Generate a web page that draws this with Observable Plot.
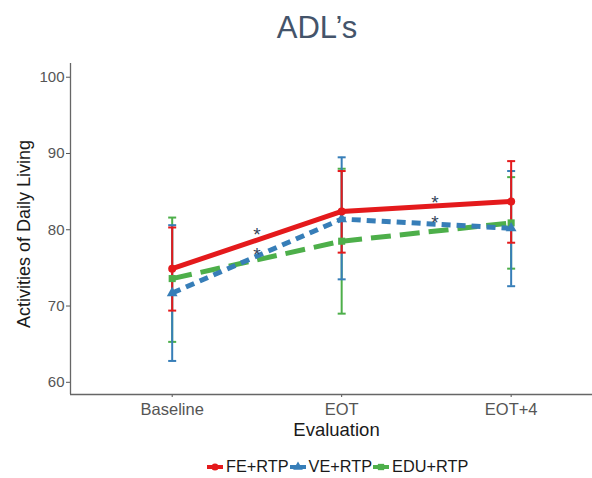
<!DOCTYPE html>
<html>
<head>
<meta charset="utf-8">
<script src="https://cdn.jsdelivr.net/npm/d3@7"></script>
<script src="https://cdn.jsdelivr.net/npm/@observablehq/plot@0.6"></script>
<style>
  body { margin: 0; background: #fff; font-family: "Liberation Sans", Arial, sans-serif; }
  #wrap { position: relative; width: 592px; height: 478px; overflow: hidden; }
  #legend { position: absolute; left: 206px; top: 457px; display: flex; align-items: center; font-size: 16.3px; color: #1a1a1a; white-space: nowrap; }
  #legend .item { display: flex; align-items: center; }
  #legend svg { display: block; margin-right: 2px; }
</style>
</head>
<body>
<div id="wrap"></div>
<script>
// ---- data ----
const evaluations = ["Baseline", "EOT", "EOT+4"];
const groups = ["FE+RTP", "VE+RTP", "EDU+RTP"];
const groupColors = ["#e41a1c", "#377eb8", "#4daf4a"];
const groupSymbols = ["circle", "triangle", "square"];
const groupDashes = [null, "9,6", "20,9"];

const feMean  = [74.9, 82.4, 83.7];
const feLow   = [69.4, 77.0, 78.3];
const feHigh  = [80.3, 87.7, 89.0];

const veMean  = [71.7, 81.4, 80.2];
const veLow   = [62.8, 73.5, 72.6];
const veHigh  = [80.6, 89.5, 87.7];

const eduMean = [73.6, 78.5, 80.9];
const eduLow  = [65.3, 69.0, 74.9];
const eduHigh = [81.6, 88.0, 86.9];

// significance markers: position between evaluations (1-based index) and value
const starX = [1.5, 1.5, 2.55, 2.55];
const starY = [80.0, 77.3, 84.2, 81.5];

const yTicks = [60, 70, 80, 90, 100];

// ---- build table ----
const seriesMeans = [feMean, veMean, eduMean];
const seriesLows = [feLow, veLow, eduLow];
const seriesHighs = [feHigh, veHigh, eduHigh];
const rows = [];
groups.forEach((g, gi) => {
  evaluations.forEach((e, ei) => {
    rows.push({group: g, gi, x: ei + 1, eval: e, mean: seriesMeans[gi][ei], low: seriesLows[gi][ei], high: seriesHighs[gi][ei]});
  });
});
const stars = starX.map((x, i) => ({x, y: starY[i]}));

const capSymbol = {
  draw(context, size) {
    const w = Math.sqrt(size / Math.PI);
    context.moveTo(-w, 0);
    context.lineTo(w, 0);
  }
};

const drawOrder = [2, 1, 0];
const marks = [];
// error bars
for (const gi of drawOrder) {
  const d = rows.filter(r => r.gi === gi);
  marks.push(Plot.ruleX(d, {x: "x", y1: "low", y2: "high", stroke: groupColors[gi], strokeWidth: 2}));
  marks.push(Plot.dot(d, {x: "x", y: "low", symbol: capSymbol, r: 4, stroke: groupColors[gi], strokeWidth: 2, fill: "none"}));
  marks.push(Plot.dot(d, {x: "x", y: "high", symbol: capSymbol, r: 4, stroke: groupColors[gi], strokeWidth: 2, fill: "none"}));
}
// lines
for (const gi of drawOrder) {
  const d = rows.filter(r => r.gi === gi);
  marks.push(Plot.line(d, {x: "x", y: "mean", stroke: groupColors[gi], strokeWidth: 5, strokeDasharray: groupDashes[gi], strokeLinecap: "butt"}));
}
// points
for (const gi of drawOrder) {
  const d = rows.filter(r => r.gi === gi);
  marks.push(Plot.dot(d, {x: "x", y: "mean", symbol: groupSymbols[gi], r: 4, fill: groupColors[gi], stroke: "none"}));
}
// asterisks
marks.push(Plot.text(stars, {x: "x", y: "y", text: () => "*", fontSize: 19, fill: "#34445a", dy: 5}));

// axes
marks.push(Plot.axisY({ticks: yTicks, tickSize: 4, tickPadding: 2, fontSize: 15, fill: "#555", stroke: "#555", label: null}));
marks.push(Plot.axisX({ticks: [1, 2, 3], tickFormat: i => evaluations[i - 1], tickSize: 3, tickPadding: 6, fontSize: 16.5, fill: "#555", stroke: "#555", label: null}));
marks.push(Plot.ruleX([0.4], {stroke: "#666", strokeWidth: 1.3}));
marks.push(Plot.ruleY([58.4], {stroke: "#666", strokeWidth: 1.3}));

// titles
marks.push(Plot.text(["Evaluation"], {frameAnchor: "bottom", lineAnchor: "top", dy: 28, dx: 5, fontSize: 18.5, fill: "#1a1a1a"}));
marks.push(Plot.text(["Activities of Daily Living"], {frameAnchor: "left", textAnchor: "middle", rotate: -90, dx: -46, dy: 5, fontSize: 18, fill: "#1a1a1a"}));
marks.push(Plot.text(["ADL\u2019s"], {frameAnchor: "top", lineAnchor: "top", dy: -48, dx: -14.5, fontSize: 31, fill: "#44546a"}));

const chart = Plot.plot({
  width: 592,
  height: 478,
  marginTop: 63,
  marginBottom: 84,
  marginLeft: 70,
  marginRight: 0,
  style: {fontFamily: "'Liberation Sans', Arial, sans-serif", background: "#fff", overflow: "visible"},
  x: {domain: [0.4, 3.48], axis: null},
  y: {domain: [58.4, 101.8], axis: null},
  marks
});
const wrap = document.getElementById("wrap");
wrap.appendChild(chart);

// legend
const legend = document.createElement("div");
legend.id = "legend";
groups.forEach((g, gi) => {
  const item = document.createElement("div");
  item.className = "item";
  const sym = d3.create("svg").attr("width", 18).attr("height", 12);
  sym.append("line").attr("x1", 1).attr("x2", 17).attr("y1", 6).attr("y2", 6)
    .attr("stroke", groupColors[gi]).attr("stroke-width", 4);
  sym.append("path").attr("transform", "translate(9,6)")
    .attr("d", d3.symbol(gi === 0 ? d3.symbolCircle : gi === 1 ? d3.symbolTriangle : d3.symbolSquare, 40)())
    .attr("fill", groupColors[gi]);
  item.appendChild(sym.node());
  const t = document.createElement("span");
  t.textContent = g;
  item.appendChild(t);
  legend.appendChild(item);
});
wrap.appendChild(legend);
</script>
</body>
</html>
